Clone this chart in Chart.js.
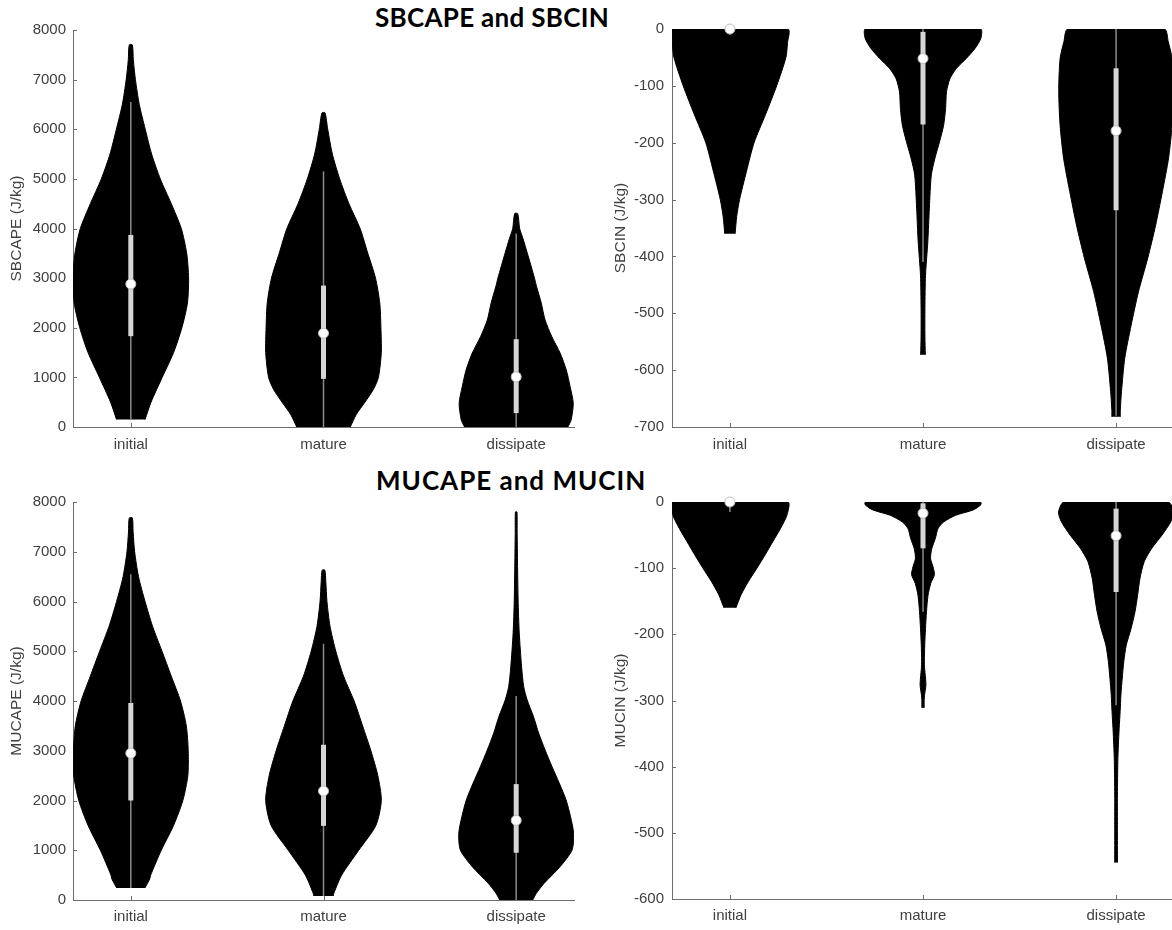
<!DOCTYPE html>
<html><head><meta charset="utf-8">
<script src="https://cdn.jsdelivr.net/npm/chart.js@4/dist/chart.umd.min.js"></script>
<style>
html,body{margin:0;padding:0;background:#fff;}
body{width:1172px;height:930px;overflow:hidden;position:relative;}
canvas{position:absolute;}
.title{position:absolute;font-family:Lato,'Open Sans',sans-serif;font-weight:bold;font-size:26px;line-height:30px;color:#000;white-space:nowrap;}
</style></head><body>
<div class="title" style="left:375px;top:2px;letter-spacing:0.3px">SBCAPE and SBCIN</div>
<div class="title" style="left:376px;top:465px;letter-spacing:1px">MUCAPE and MUCIN</div>
<canvas id="c1" width="580" height="470" style="left:0;top:0"></canvas>
<canvas id="c2" width="600" height="470" style="left:580px;top:0"></canvas>
<canvas id="c3" width="580" height="460" style="left:0;top:470px"></canvas>
<canvas id="c4" width="600" height="460" style="left:580px;top:470px"></canvas>
<script>
// ---------- data ----------
const categories = ['initial', 'mature', 'dissipate'];
const positions = [1, 2, 3];

// SBCAPE violins: levels (J/kg) and half-widths (x units)
const sbcapeInitLevels = [150, 500, 1000, 1500, 2000, 2500, 3000, 3500, 4000, 4500, 5000, 5500, 6000, 6500, 7000, 7400, 7700];
const sbcapeInitWidths = [0.074, 0.105, 0.163, 0.222, 0.265, 0.294, 0.300, 0.290, 0.262, 0.210, 0.153, 0.108, 0.075, 0.044, 0.024, 0.013, 0.008];
const sbcapeMatLevels = [0, 250, 500, 750, 1000, 1500, 2000, 2500, 3000, 3500, 4000, 4500, 5000, 5500, 6000, 6330];
const sbcapeMatWidths = [0.139, 0.170, 0.215, 0.258, 0.285, 0.300, 0.298, 0.292, 0.270, 0.230, 0.190, 0.132, 0.084, 0.046, 0.022, 0.008];
const sbcapeDisLevels = [0, 140, 480, 812, 1150, 1490, 1820, 2156, 2500, 2827, 3000, 3500, 3800, 4000, 4300];
const sbcapeDisWidths = [0.268, 0.285, 0.296, 0.280, 0.260, 0.228, 0.185, 0.150, 0.130, 0.106, 0.095, 0.058, 0.035, 0.018, 0.008];
const sbcapeMedian = [2880, 1890, 1010];
const sbcapeQ1 = [1830, 970, 280];
const sbcapeQ3 = [3870, 2850, 1770];
const sbcapeWhiskLo = [150, 0, 0];
const sbcapeWhiskHi = [6550, 5150, 3900];

// SBCIN violins
const sbcinInitLevels = [-360, -330, -300, -250, -200, -150, -100, -50, -25, 0];
const sbcinInitWidths = [0.027, 0.035, 0.050, 0.086, 0.125, 0.185, 0.242, 0.290, 0.298, 0.300];
const sbcinMatLevels = [-573, -540, -491, -433, -374, -315, -257, -227, -198, -169, -140, -110, -87, -69, -52, -34, -16, 0];
const sbcinMatWidths = [0.012, 0.010, 0.010, 0.013, 0.025, 0.033, 0.043, 0.062, 0.086, 0.107, 0.117, 0.122, 0.140, 0.174, 0.224, 0.270, 0.300, 0.298];
const sbcinDisLevels = [-682, -670, -638, -579, -521, -462, -403, -345, -286, -227, -169, -110, -52, -22, 0];
const sbcinDisWidths = [0.022, 0.022, 0.028, 0.045, 0.078, 0.116, 0.164, 0.205, 0.240, 0.272, 0.290, 0.297, 0.290, 0.270, 0.250];
const sbcinMedian = [0, -52, -179];
const sbcinQ1 = [0, -168, -319];
const sbcinQ3 = [0, -5, -69];
const sbcinWhiskLo = [-10, -410, -680];
const sbcinWhiskHi = [0, 0, 0];

// MUCAPE violins
const mucapeInitLevels = [240, 420, 500, 1000, 1500, 2000, 2500, 3000, 3500, 4000, 4500, 5000, 5500, 6000, 6500, 7000, 7400, 7680];
const mucapeInitWidths = [0.073, 0.098, 0.103, 0.158, 0.222, 0.270, 0.296, 0.298, 0.288, 0.258, 0.210, 0.162, 0.113, 0.074, 0.040, 0.020, 0.012, 0.008];
const mucapeMatLevels = [80, 150, 500, 1000, 1500, 2000, 2500, 3000, 3500, 4000, 4500, 5000, 5500, 6000, 6400, 6630];
const mucapeMatWidths = [0.050, 0.055, 0.094, 0.183, 0.272, 0.300, 0.282, 0.246, 0.203, 0.159, 0.104, 0.064, 0.034, 0.018, 0.012, 0.007];
const mucapeDisLevels = [0, 130, 335, 670, 1005, 1340, 1675, 2010, 2345, 2680, 3015, 3350, 3685, 4020, 4290, 4690, 5360, 6030, 7370, 7800];
const mucapeDisWidths = [0.086, 0.104, 0.145, 0.228, 0.290, 0.298, 0.282, 0.259, 0.224, 0.186, 0.150, 0.117, 0.090, 0.057, 0.039, 0.028, 0.016, 0.010, 0.005, 0.004];
const mucapeMedian = [2950, 2190, 1600];
const mucapeQ1 = [2000, 1490, 950];
const mucapeQ3 = [3960, 3120, 2330];
const mucapeWhiskLo = [240, 80, 0];
const mucapeWhiskHi = [6550, 5150, 4100];

// MUCIN violins
const mucinInitLevels = [-160, -140, -120, -100, -80, -60, -40, -20, 0];
const mucinInitWidths = [0.031, 0.058, 0.096, 0.140, 0.182, 0.222, 0.262, 0.295, 0.300];
const mucinMatLevels = [-311, -300, -292, -277, -266, -250, -241, -216, -191, -166, -141, -123, -110, -98, -85, -70, -55, -40, -30, -20, -12, -4, 0];
const mucinMatWidths = [0.006, 0.006, 0.008, 0.015, 0.013, 0.008, 0.007, 0.009, 0.013, 0.018, 0.026, 0.040, 0.059, 0.052, 0.039, 0.046, 0.064, 0.078, 0.108, 0.170, 0.260, 0.300, 0.298];
const mucinDisLevels = [-545, -493, -443, -392, -367, -342, -317, -292, -266, -241, -216, -191, -166, -140, -115, -90, -70, -50, -30, -15, 0];
const mucinDisWidths = [0.007, 0.007, 0.007, 0.009, 0.012, 0.016, 0.021, 0.025, 0.032, 0.040, 0.053, 0.078, 0.098, 0.112, 0.124, 0.146, 0.185, 0.238, 0.283, 0.298, 0.270];
const mucinMedian = [0, -17, -51];
const mucinQ1 = [0, -70, -136];
const mucinQ3 = [0, -2, -10];
const mucinWhiskLo = [-15, -166, -307];
const mucinWhiskHi = [0, 0, 0];

// ---------- helpers ----------
const AXIS_COLOR = '#6d6d6d';
const TEXT_COLOR = '#404040';
const FONT = "'Liberation Sans', Arial, sans-serif";

function violinPoints(pos, levels, widths) {
  const pts = [];
  for (let i = 0; i < levels.length; i++) pts.push({x: pos + widths[i], y: levels[i]});
  for (let i = levels.length - 1; i >= 0; i--) pts.push({x: pos - widths[i], y: levels[i]});
  return pts;
}

const inwardTicks = {
  id: 'inwardTicks',
  beforeDatasetsDraw(chart) {
    const ctx = chart.ctx, a = chart.chartArea;
    const xs = chart.scales.x, ys = chart.scales.y;
    ctx.save();
    ctx.strokeStyle = AXIS_COLOR; ctx.lineWidth = 1;
    ctx.beginPath();
    xs.ticks.forEach(t => { const px = Math.round(xs.getPixelForValue(t.value)) + 0.5; ctx.moveTo(px, a.bottom); ctx.lineTo(px, a.bottom - 4); });
    ys.ticks.forEach(t => { const py = Math.round(ys.getPixelForValue(t.value)) + 0.5; ctx.moveTo(a.left, py); ctx.lineTo(a.left + 4, py); });
    ctx.stroke();
    ctx.restore();
  }
};

function makeChart(id, p) {
  const datasets = [];
  p.violins.forEach((v, i) => {
    datasets.push({
      data: violinPoints(positions[i], v[0], v[1]), showLine: true, fill: 'shape',
      backgroundColor: '#000', borderColor: '#000', borderWidth: 1, pointRadius: 0,
      tension: 0.25, order: 3
    });
    datasets.push({
      data: [{x: positions[i], y: p.whiskLo[i]}, {x: positions[i], y: p.whiskHi[i]}],
      showLine: true, borderColor: '#8a8a8a', borderWidth: 1.5, pointRadius: 0, order: 2
    });
    datasets.push({
      data: [{x: positions[i], y: p.q1[i]}, {x: positions[i], y: p.q3[i]}],
      showLine: true, borderColor: '#d6d6d6', borderWidth: 5, borderCapStyle: 'butt', pointRadius: 0, order: 1
    });
    datasets.push({
      data: [{x: positions[i], y: p.median[i]}],
      pointRadius: 5, pointBackgroundColor: '#ffffff', pointBorderColor: '#bdbdbd', pointBorderWidth: 1,
      clip: false, order: 0
    });
  });
  return new Chart(document.getElementById(id), {
    type: 'scatter',
    data: {datasets},
    plugins: [inwardTicks],
    options: {
      responsive: false, animation: false, devicePixelRatio: 1,
      layout: {padding: {top: p.padTop, right: p.padRight, bottom: 0, left: 0}},
      plugins: {legend: {display: false}, tooltip: {enabled: false}},
      scales: {
        x: {
          type: 'linear', min: 0.7, max: 3.3,
          afterBuildTicks: s => { s.ticks = positions.map(v => ({value: v})); },
          afterFit: s => { s.height = p.xHeight; },
          ticks: {callback: v => categories[Math.round(v) - 1], font: {family: FONT, size: 15}, color: TEXT_COLOR, padding: p.xPad, maxRotation: 0, autoSkip: false},
          grid: {display: true, drawOnChartArea: false, drawTicks: false},
          border: {color: AXIS_COLOR, width: 1}
        },
        y: {
          type: 'linear', min: p.yMin, max: p.yMax,
          afterFit: s => { s.width = p.yWidth; },
          ticks: {stepSize: p.yStep, callback: v => String(v), font: {family: FONT, size: 15}, color: TEXT_COLOR, padding: p.yPad},
          title: {display: true, text: p.yTitle, font: {family: FONT, size: 15.5}, color: TEXT_COLOR, padding: {top: p.titlePad, bottom: 0}},
          grid: {display: true, drawOnChartArea: false, drawTicks: false},
          border: {color: AXIS_COLOR, width: 1}
        }
      }
    }
  });
}

makeChart('c1', {
  violins: [[sbcapeInitLevels, sbcapeInitWidths], [sbcapeMatLevels, sbcapeMatWidths], [sbcapeDisLevels, sbcapeDisWidths]],
  median: sbcapeMedian, q1: sbcapeQ1, q3: sbcapeQ3, whiskLo: sbcapeWhiskLo, whiskHi: sbcapeWhiskHi,
  yMin: 0, yMax: 8000, yStep: 1000, yTitle: 'SBCAPE (J/kg)',
  padTop: 30, padRight: 6, xHeight: 43, yWidth: 73, titlePad: 7, yPad: 7, xPad: 9
});
makeChart('c2', {
  violins: [[sbcinInitLevels, sbcinInitWidths], [sbcinMatLevels, sbcinMatWidths], [sbcinDisLevels, sbcinDisWidths]],
  median: sbcinMedian, q1: sbcinQ1, q3: sbcinQ3, whiskLo: sbcinWhiskLo, whiskHi: sbcinWhiskHi,
  yMin: -700, yMax: 0, yStep: 100, yTitle: 'SBCIN (J/kg)',
  padTop: 29, padRight: 5, xHeight: 43, yWidth: 92, titlePad: 31, yPad: 8, xPad: 9
});
makeChart('c3', {
  violins: [[mucapeInitLevels, mucapeInitWidths], [mucapeMatLevels, mucapeMatWidths], [mucapeDisLevels, mucapeDisWidths]],
  median: mucapeMedian, q1: mucapeQ1, q3: mucapeQ3, whiskLo: mucapeWhiskLo, whiskHi: mucapeWhiskHi,
  yMin: 0, yMax: 8000, yStep: 1000, yTitle: 'MUCAPE (J/kg)',
  padTop: 32, padRight: 6, xHeight: 30, yWidth: 73, titlePad: 7, yPad: 7, xPad: 8
});
makeChart('c4', {
  violins: [[mucinInitLevels, mucinInitWidths], [mucinMatLevels, mucinMatWidths], [mucinDisLevels, mucinDisWidths]],
  median: mucinMedian, q1: mucinQ1, q3: mucinQ3, whiskLo: mucinWhiskLo, whiskHi: mucinWhiskHi,
  yMin: -600, yMax: 0, yStep: 100, yTitle: 'MUCIN (J/kg)',
  padTop: 32, padRight: 5, xHeight: 31, yWidth: 92, titlePad: 31, yPad: 8, xPad: 8
});
</script>
</body></html>
